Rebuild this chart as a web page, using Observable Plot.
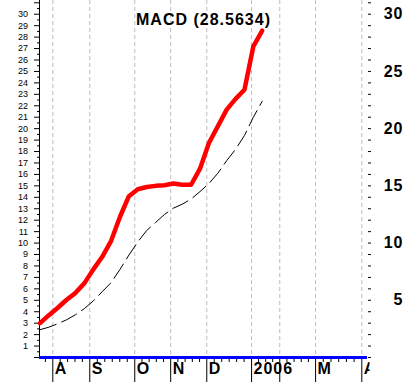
<!DOCTYPE html>
<html><head><meta charset="utf-8">
<script src="https://cdn.jsdelivr.net/npm/d3@7"></script>
<script src="https://cdn.jsdelivr.net/npm/@observablehq/plot@0.6"></script>
<style>
body{margin:0;background:#fff}
#chart g[font-weight="bold"] text{letter-spacing:1px}
</style>
</head><body><div id="chart"></div>
<script>
// weekly observations (index of week)
const week = [0,1,2,3,4,5,6,7,8,9,10,11,12,13,14,15,16,17,18,19,20,21,22,23,24,25];
const macd = [3.0,3.7,4.35,5.05,5.65,6.5,7.7,8.8,10.2,12.3,14.1,14.7,14.9,15.0,15.05,15.2,15.1,15.1,16.5,18.75,20.2,21.66,22.6,23.4,27.2,28.5634];
const signal = [2.43,2.65,2.95,3.3,3.74,4.28,4.95,5.75,6.55,7.7,8.95,10.1,11.1,11.8,12.5,13.05,13.4,13.85,14.5,15.2,16.1,17.2,18.2,19.4,21.0,22.4];
// month gridlines (in week units) and their labels
const monthPos = [1.44,5.6,10.66,14.7,18.76,23.8,26.97,31.0,36.2];
const monthLabels = ["A","S","O","N","D","2006","","M","A"];
const minorPerMonth = [5,6,5,5,6,4,5,6];
const leftTickLabels = [1,2,3,4,5,6,7,8,9,10,11,12,13,14,15,16,17,18,19,20,21,22,23,24,25,26,27,28,29,30];
const rightTickLabels = [5,10,15,20,25,30];
const titleName = "MACD";

const data = week.map((w,i)=>({w, macd: macd[i], signal: signal[i]}));
const title = `${titleName} (${macd[macd.length-1]})`;

// minor x ticks: even subdivisions between month gridlines
const minorX = [monthPos[0] - (monthPos[1]-monthPos[0])/minorPerMonth[0]];
for (let k=0;k<minorPerMonth.length;k++){
  const a=monthPos[k], b=monthPos[k+1], n=minorPerMonth[k];
  for (let j=1;j<n;j++) minorX.push(a+(b-a)*j/n);
}
const yMax = 31.2;
const intTicks = d3.range(0, 32);
const halfTicks = d3.range(0.5, 31, 1);

const font = "'Liberation Sans', Arial, Helvetica, sans-serif";
const W = 405, H = 383, mR = 38;

const chart = Plot.plot({
  width: W, height: H,
  marginLeft: 39, marginRight: mR, marginTop: 0, marginBottom: 26,
  x: {type: "linear", domain: [-0.056, 36.84]},
  y: {domain: [0, yMax]},
  style: {fontFamily: font, background: "#fff", color: "#000", overflow: "visible"},
  marks: [
    Plot.ruleX(monthPos, {stroke: "#bdbdbd", strokeDasharray: "4,3", strokeWidth: 1}),
    Plot.frame({anchor: "left", stroke: "#000"}),
    // left axis ticks
    Plot.axisY({anchor: "left", ticks: intTicks, tickSize: 5, tickFormat: () => "", label: null}),
    Plot.axisY({anchor: "left", ticks: halfTicks, tickSize: 2, tickFormat: () => "", label: null}),
    Plot.text(leftTickLabels, {y: d => d, text: d => String(d), frameAnchor: "left", dx: -11.5, textAnchor: "end", fontSize: 9}),
    // right axis ticks
    Plot.axisY({anchor: "right", ticks: intTicks, tickSize: 3, tickFormat: () => "", label: null}),
    Plot.text(rightTickLabels, {y: d => d, text: d => String(d), frameAnchor: "right", dx: 36, textAnchor: "end", fontSize: 16, fontWeight: "bold"}),
    // bottom axis
    Plot.axisX({anchor: "bottom", ticks: monthPos, tickSize: 25, tickFormat: () => "", label: null}),
    Plot.axisX({anchor: "bottom", ticks: minorX, tickSize: 5, tickFormat: () => "", label: null}),
    Plot.text(monthPos, {x: d => d, text: (d,i) => monthLabels[i], frameAnchor: "bottom", dx: 2, dy: 16, textAnchor: "start", fontSize: 16, fontWeight: "bold"}),
    Plot.ruleY([0], {stroke: "#0000ff", strokeWidth: 3}),
    // series
    Plot.line(data, {x: "w", y: "signal", stroke: "#000", strokeWidth: 1, strokeDasharray: "17,6"}),
    Plot.line(data, {x: "w", y: "macd", stroke: "#ff0000", strokeWidth: 4.5, strokeLinejoin: "round"}),
    // title
    Plot.text([title], {text: d => d, frameAnchor: "top", dy: 13, fontSize: 16, fontWeight: "bold"})
  ]
});
// clip month labels at the right edge of the plot frame
(function(){
  const ns = "http://www.w3.org/2000/svg";
  const svg = chart.tagName.toLowerCase() === "svg" ? chart : chart.querySelector("svg");
  const defs = document.createElementNS(ns, "defs");
  const cp = document.createElementNS(ns, "clipPath");
  cp.setAttribute("id", "clipR");
  const r = document.createElementNS(ns, "rect");
  r.setAttribute("x", 0); r.setAttribute("y", 0);
  r.setAttribute("width", W - mR); r.setAttribute("height", H);
  cp.appendChild(r); defs.appendChild(cp); svg.insertBefore(defs, svg.firstChild);
  svg.querySelectorAll("g").forEach(g => {
    const texts = Array.from(g.children).filter(c => c.tagName === "text");
    if (texts.some(t => t.textContent === "2006")) g.setAttribute("clip-path", "url(#clipR)");
  });
})();
document.getElementById("chart").appendChild(chart);
</script>
</body></html>
